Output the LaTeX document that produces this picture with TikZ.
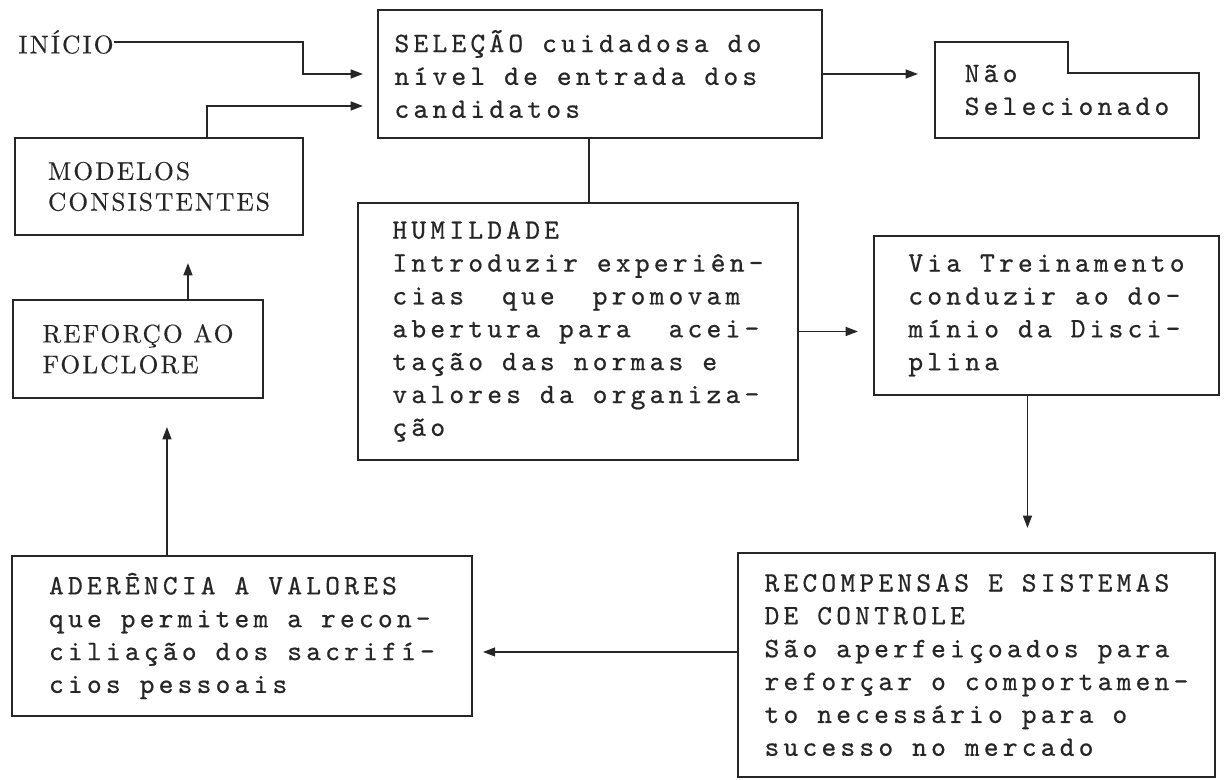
\documentclass[tikz,border=0pt]{standalone}
\usepackage{fontspec}
\newfontfamily\maquina[LetterSpace=15, FakeBold=0.6]{lmmono10-regular.otf}
\newfontfamily\letreiro[LetterSpace=8, FakeBold=0.4]{lmroman10-regular.otf}
\usetikzlibrary{arrows.meta}
\usetikzlibrary{calc}

\begin{document}
\begin{tikzpicture}[x=0.02cm, y=-0.02cm,
	caixa/.style={draw, line width=1.1pt, color=black!85, rectangle, align=left, anchor=north west, inner sep=0pt, outer sep=0pt, font=\maquina\fontsize{16}{18.7}\selectfont},
	rotulo/.style={caixa, font=\letreiro\fontsize{14.5}{17.5}\selectfont},
	linha/.style={line width=1.1pt, color=black!85},
	seta/.style={linha, ->, >={Triangle[length=7pt,width=5pt]}}]
	\useasboundingbox (0,0) rectangle (1225,780);

	%boxes (pixel coordinates, y downwards)
	\node[caixa, minimum width=8.88cm, minimum height=2.56cm] (sel) at (378,10) {SELEÇÃO cuidadosa do\hspace*{0.88cm}\\nível de entrada dos\\candidatos}; % text kept to the left
	\node[caixa, draw=none, minimum width=5.28cm, minimum height=1.92cm] (nao) at (935,42) {Não\\Selecionado};
	\node[caixa, minimum width=8.8cm, minimum height=5.14cm] (hum) at (358,203) {HUMILDADE\\Introduzir experiên-\\cias\ \ que\ \ promovam\\abertura para\ \ acei-\\tação das normas e\\valores da organiza-\\ção};
	\node[caixa, minimum width=6.9cm, minimum height=3.18cm] (via) at (874,236) {Via Treinamento\\conduzir ao do-\\mínio da Disci-\\plina};
	\node[caixa, minimum width=9.54cm, minimum height=4.48cm] (rec) at (738,553) {RECOMPENSAS E SISTEMAS\\DE CONTROLE\\São aperfeiçoados para\\reforçar o comportamen-\\to necessário para o\\sucesso no mercado};
	\node[caixa, minimum width=9.2cm, minimum height=3.2cm] (ader) at (12,556) {ADERÊNCIA A VALORES\\que permitem a recon-\\ciliação dos sacrifí-\\cios pessoais};
	\node[rotulo, minimum width=5.76cm, minimum height=1.94cm] (mod) at (15,138) {MODELOS\\CONSISTENTES};
	\node[rotulo, minimum width=5cm, minimum height=1.96cm] (ref) at (13,300) {REFORÇO AO\\FOLCLORE};
	\node[rotulo, draw=none, anchor=center] (inicio) at (66,42) {INÍCIO};

	%folder outline of "Não Selecionado"
	\draw[linha] (nao.south west) -- (nao.north west) -- ($(nao.north west)+(133,0)$) -- ($(nao.north west)+(133,31)$) -- ($(nao.north east)+(0,31)$) -- (nao.south east) -- cycle;

	%connectors
	\draw[seta, shorten >=0.3cm] (inicio.east) -| ($(sel.west)+(-75,0)$) -- (sel.west); % start
	\draw[seta, shorten >=0.3cm] ($(mod.north west)!0.667!(mod.north east)$) |- ($(sel.north west)!0.75!(sel.south west)$); % models
	\draw[seta, shorten >=0.34cm] (sel.east) -- (sel.east -| nao.west); % rejected
	\coordinate (meio) at ($(sel.south)!0.5!(hum.north)$);
	\draw[linha] (meio |- sel.south) -- (meio |- hum.north); % selection - humility
	\draw[seta, shorten >=0.32cm] (hum.east) -- (hum.east -| via.west); % training
	\draw[seta, shorten >=0.5cm] ($(via.south)+(-19,0)$) coordinate (v1) -- (v1 |- rec.north); % rewards
	\draw[seta, shorten >=0.22cm] ($(rec.west)+(0,-13)$) coordinate (r1) -- (r1 -| ader.east); % values
	\draw[seta, shorten >=0.58cm] ($(ader.north)+(-75,0)$) coordinate (a1) -- (a1 |- ref.south); % folklore
	\draw[seta, shorten >=0.56cm] ($(ref.north)+(50,0)$) coordinate (f1) -- (f1 |- mod.south); % models
\end{tikzpicture}
\end{document}
